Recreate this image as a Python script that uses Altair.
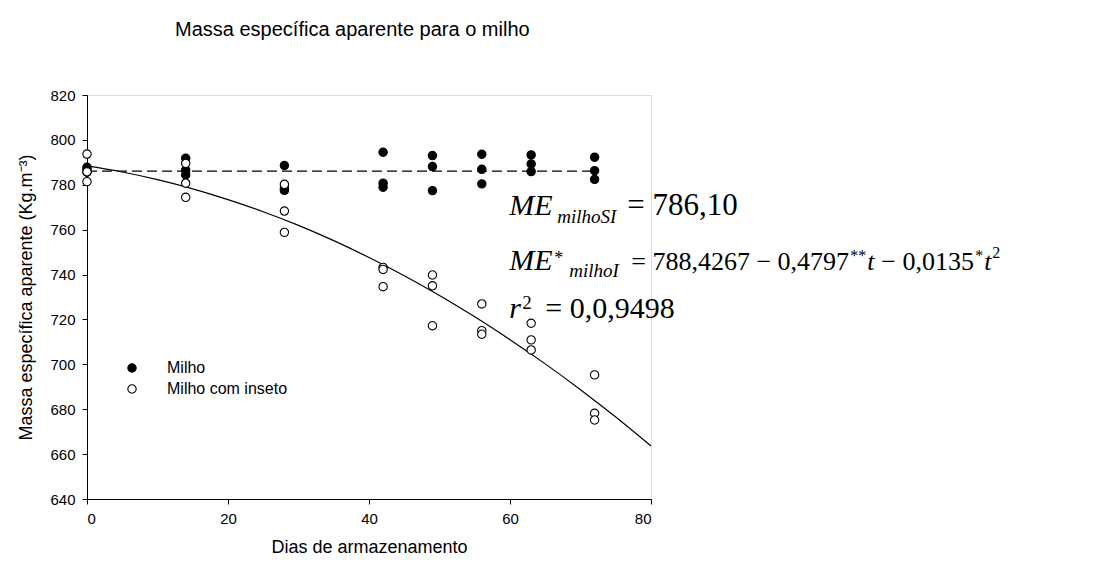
import altair as alt
import pandas as pd

# ---- data ----
milho_days = [0, 0, 0, 14, 14, 14, 28, 28, 28, 42, 42, 42, 49, 49, 49,
              56, 56, 56, 63, 63, 63, 72, 72, 72]
milho_vals = [787.8, 786.8, 785.6, 791.8, 786.5, 784.4, 788.6, 778.5, 777.5,
              794.5, 780.7, 778.9, 793.0, 788.1, 777.4, 793.6, 786.9, 780.4,
              793.3, 789.3, 785.9, 792.3, 786.3, 782.4]

inseto_days = [0, 0, 0, 14, 14, 14, 28, 28, 28, 42, 42, 42, 49, 49, 49,
               56, 56, 56, 63, 63, 63, 72, 72, 72]
inseto_vals = [793.7, 785.8, 781.4, 789.5, 780.7, 774.4, 780.2, 768.3, 758.8,
               743.2, 742.3, 734.6, 739.8, 735.0, 717.2, 726.9, 715.0, 713.4,
               718.3, 710.9, 706.4, 695.3, 678.2, 675.2]

# fitted curve (milho com inseto)
curve_days = [0, 5, 10, 15, 20, 25, 30, 35, 40, 45, 50, 55, 60, 65, 70, 75, 80]
curve_vals = [788.4, 785.7, 782.3, 778.2, 773.4, 768.0, 761.9, 755.1, 747.6,
              739.5, 730.7, 721.2, 711.0, 700.2, 688.7, 676.5, 663.6]

# mean line (milho sem inseto)
mean_days = [0, 72]
mean_vals = [786.1, 786.1]

series_names = ["Milho", "Milho com inseto"]
x_ticks = [0, 20, 40, 60, 80]
y_ticks = [640, 660, 680, 700, 720, 740, 760, 780, 800, 820]

title_text = "Massa específica aparente para o milho"
x_title = "Dias de armazenamento"
y_title = "Massa específica aparente (Kg.m⁻³)"

# ---- tables ----
pts = pd.concat([
    pd.DataFrame({"dia": milho_days, "valor": milho_vals, "serie": series_names[0]}),
    pd.DataFrame({"dia": inseto_days, "valor": inseto_vals, "serie": series_names[1]}),
])
curve = pd.DataFrame({"dia": curve_days, "valor": curve_vals})
mean = pd.DataFrame({"dia": mean_days, "valor": mean_vals})

xs = alt.Scale(domain=[0, 80], nice=False, zero=False)
ys = alt.Scale(domain=[640, 820], nice=False, zero=False)

xaxis = alt.Axis(values=x_ticks, title=x_title, grid=False, domainColor="black",
                 tickColor="black", tickSize=5, labelFont="Liberation Sans",
                 labelFontSize=15, labelColor="black", labelPadding=7,
                 titleFont="Liberation Sans", titleFontSize=18, titleFontWeight="normal",
                 titleColor="black", titlePadding=12)
yaxis = alt.Axis(values=y_ticks, title=y_title, grid=False, domainColor="black",
                 tickColor="black", tickSize=5, labelFont="Liberation Sans",
                 labelFontSize=15, labelColor="black", labelPadding=7,
                 titleFont="Liberation Sans", titleFontSize=18, titleFontWeight="normal",
                 titleColor="black", titlePadding=14)

mean_line = alt.Chart(mean).mark_line(color="black", strokeWidth=1.2, strokeDash=[10, 5]).encode(
    x=alt.X("dia:Q", scale=xs, axis=xaxis),
    y=alt.Y("valor:Q", scale=ys, axis=yaxis),
)
curve_line = alt.Chart(curve).mark_line(color="black", strokeWidth=1.2, interpolate="monotone").encode(
    x=alt.X("dia:Q", scale=xs),
    y=alt.Y("valor:Q", scale=ys),
)
points = alt.Chart(pts).mark_point(shape="circle", filled=True, size=70, stroke="black",
                                   strokeWidth=1.1, opacity=1).encode(
    x=alt.X("dia:Q", scale=xs),
    y=alt.Y("valor:Q", scale=ys),
    fill=alt.Fill("serie:N", scale=alt.Scale(domain=series_names, range=["black", "white"]),
                  legend=alt.Legend(title=None, orient="none", legendX=37, legendY=265,
                                    symbolType="circle", symbolSize=70,
                                    symbolStrokeColor="black", symbolStrokeWidth=1.1,
                                    labelFont="Liberation Sans", labelFontSize=16,
                                    labelColor="black", labelOffset=27, rowPadding=5,
                                    padding=0)),
    order=alt.Order("serie:N"),
)

# ---- equation annotation (anchored in data units, pieces offset in px) ----
def piece(txt, xd, yv, dx, dy, size, italic):
    df = pd.DataFrame({"dia": [xd], "valor": [yv], "t": [txt]})
    return alt.Chart(df).mark_text(align="left", baseline="alphabetic", dx=dx, dy=dy,
                                   font="Liberation Serif", fontSize=size,
                                   fontStyle="italic" if italic else "normal",
                                   color="black").encode(
        x=alt.X("dia:Q", scale=xs), y=alt.Y("valor:Q", scale=ys), text="t:N")

ax = 59.9          # left edge of equations (days)
l1, l2, l3 = 766.5, 742.0, 720.7   # baselines (values)
eq = [
    piece("ME", ax, l1, 0, 0, 30, True),
    piece("milhoSI", ax, l1, 48, 8, 19, True),
    piece("= 786,10", ax, l1, 118, 0, 31, False),

    piece("ME", ax, l2, 0, 0, 30, True),
    piece("*", ax, l2, 45, -6, 18, False),
    piece("milhoI", ax, l2, 60, 7, 19, True),
    piece("= 788,4267 − 0,4797", ax, l2, 122, 0, 26, False),
    piece("**", ax, l2, 341, -9, 16, False),
    piece("t", ax, l2, 358, 0, 26, True),
    piece("− 0,0135", ax, l2, 372, 0, 26, False),
    piece("*", ax, l2, 466, -9, 16, False),
    piece("t", ax, l2, 475, 0, 26, True),
    piece("2", ax, l2, 483, -12, 16, False),

    piece("r", ax, l3, 0, 0, 30, True),
    piece("2", ax, l3, 13, -9, 19, False),
    piece("= 0,0,9498", ax, l3, 36, 0, 30, False),
]

title = alt.Chart(pd.DataFrame({"t": [title_text]})).mark_text(
    align="left", baseline="middle", font="Liberation Sans", fontSize=20, color="black"
).encode(x=alt.value(88), y=alt.value(-65), text="t:N")

chart = alt.layer(mean_line, curve_line, points, *eq, title).properties(
    width=564, height=404,
    autosize=alt.AutoSizeParams(type="none"),
    padding={"left": 87, "top": 95, "right": 451, "bottom": 66},
).configure_view(stroke=None).configure(background="white")

chart.save("out.html", embed_options={"renderer": "svg", "actions": False})
